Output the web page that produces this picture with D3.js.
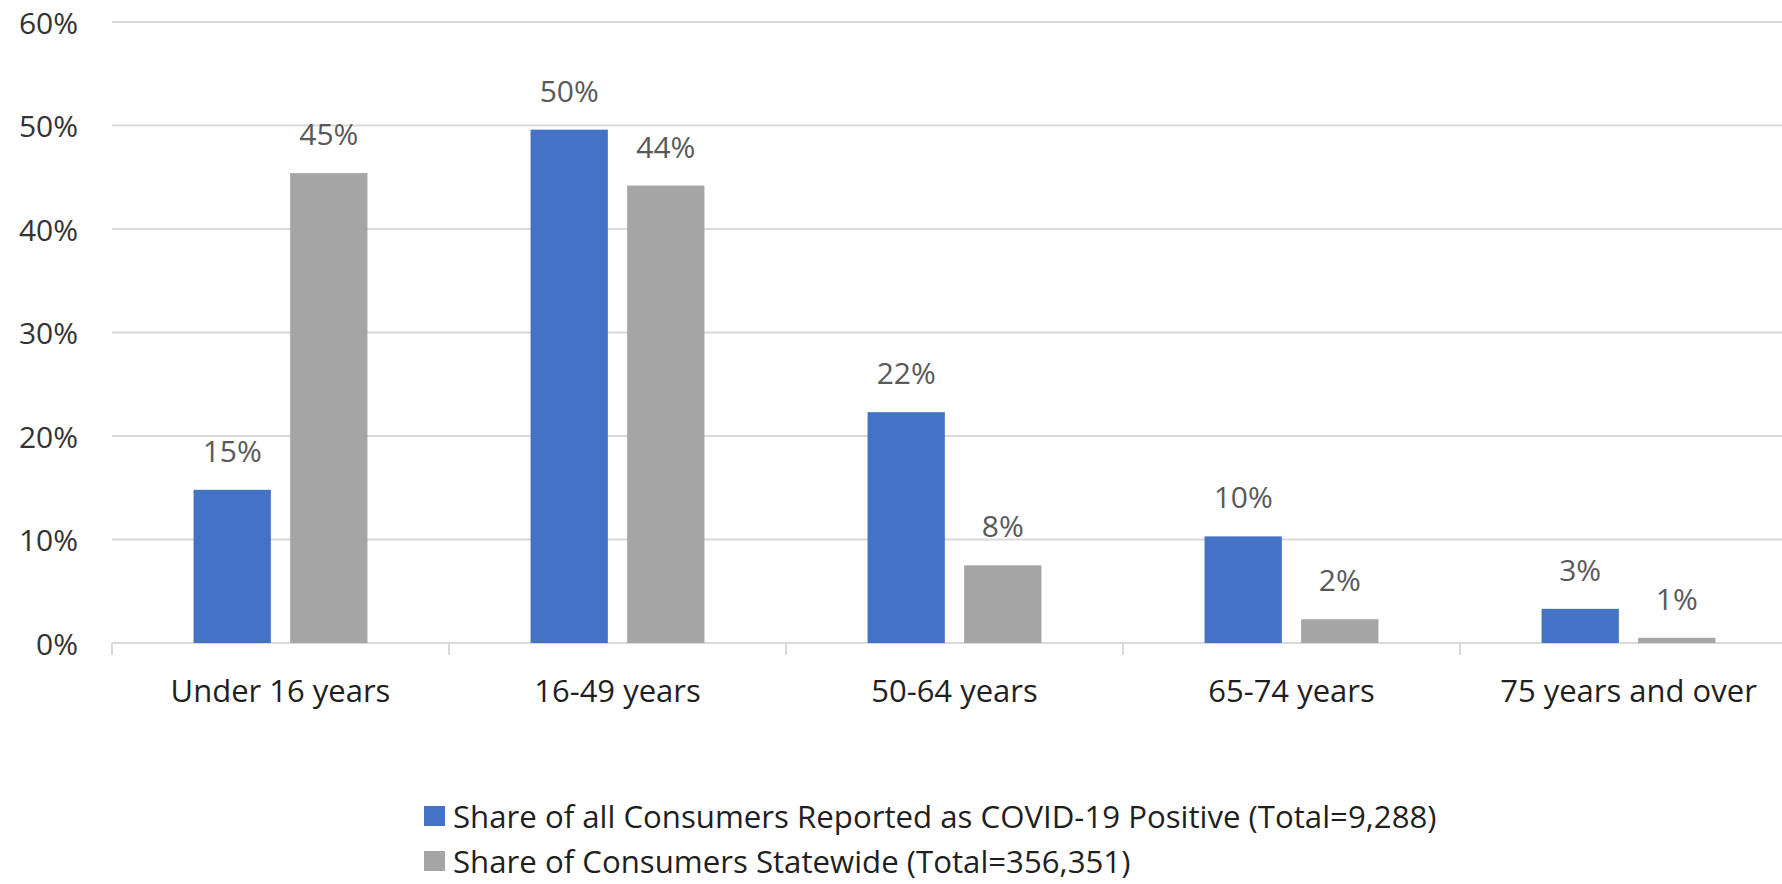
<!DOCTYPE html>
<html>
<head>
<meta charset="utf-8">
<script src="https://cdn.jsdelivr.net/npm/d3@7"></script>
<style>
  html, body { margin: 0; padding: 0; background: #ffffff; }
  svg { display: block; font-family: "Open Sans", "Noto Sans", sans-serif; }
</style>
</head>
<body>
<svg id="chart" width="1782" height="884"></svg>
<script>
const categories = ["Under 16 years", "16-49 years", "50-64 years", "65-74 years", "75 years and over"];
const seriesNames = ["Share of all Consumers Reported as COVID-19 Positive (Total=9,288)", "Share of Consumers Statewide (Total=356,351)"];
const positiveValues = [0.148, 0.496, 0.223, 0.103, 0.033];
const statewideValues = [0.454, 0.442, 0.075, 0.023, 0.005];
const positiveLabels = ["15%", "50%", "22%", "10%", "3%"];
const statewideLabels = ["45%", "44%", "8%", "2%", "1%"];
const yTicks = [0, 0.1, 0.2, 0.3, 0.4, 0.5, 0.6];
const seriesColors = ["#4472C4", "#A5A5A5"];

const W = 1782, H = 884;
const plotLeft = 112, plotRight = 1797, plotTop = 22, plotBottom = 643;

const svg = d3.select("#chart");

const y = d3.scaleLinear().domain([0, 0.6]).range([plotBottom, plotTop]);
const x0 = d3.scaleBand().domain(categories).range([plotLeft, plotRight])
  .paddingInner(0.484).paddingOuter(0.242);
const x1 = d3.scaleBand().domain([0, 1]).range([0, x0.bandwidth()]).paddingInner(0.2);

// gridlines
svg.append("g").selectAll("line").data(yTicks).join("line")
  .attr("x1", plotLeft).attr("x2", W)
  .attr("y1", d => y(d)).attr("y2", d => y(d))
  .attr("stroke", "#d9d9d9").attr("stroke-width", 2);

// y tick labels
svg.append("g").selectAll("text").data(yTicks).join("text")
  .attr("x", 78).attr("y", d => y(d))
  .attr("text-anchor", "end").attr("dominant-baseline", "central")
  .attr("font-size", 30).attr("fill", "#333333")
  .text(d => d3.format(".0%")(d));

// x-axis tick marks at band boundaries
const step = x0.step();
const boundaries = d3.range(categories.length + 1).map(i => x0(categories[0]) - x0.paddingOuter() * step + i * step);
svg.append("g").selectAll("line").data(boundaries).join("line")
  .attr("x1", d => d).attr("x2", d => d)
  .attr("y1", plotBottom).attr("y2", plotBottom + 12)
  .attr("stroke", "#d9d9d9").attr("stroke-width", 2);

// category labels
svg.append("g").selectAll("text").data(categories).join("text")
  .attr("x", d => x0(d) + x0.bandwidth() / 2).attr("y", 702)
  .attr("text-anchor", "middle")
  .attr("font-size", 31).attr("fill", "#1f1f1f")
  .text(d => d);

const rows = categories.map((c, i) => [
  { cat: c, s: 0, v: positiveValues[i], label: positiveLabels[i] },
  { cat: c, s: 1, v: statewideValues[i], label: statewideLabels[i] }
]).flat();

svg.append("g").selectAll("rect").data(rows).join("rect")
  .attr("x", d => x0(d.cat) + x1(d.s))
  .attr("width", x1.bandwidth())
  .attr("y", d => y(d.v))
  .attr("height", d => y(0) - y(d.v))
  .attr("fill", d => seriesColors[d.s]);

svg.append("g").selectAll("text").data(rows).join("text")
  .attr("x", d => x0(d.cat) + x1(d.s) + x1.bandwidth() / 2)
  .attr("y", d => y(d.v) - 28)
  .attr("text-anchor", "middle")
  .attr("font-size", 30).attr("fill", "#595959")
  .text(d => d.label);

// legend
const legend = svg.append("g");
seriesNames.forEach((name, i) => {
  const yy = 806 + i * 45;
  legend.append("rect").attr("x", 424).attr("y", yy).attr("width", 21).attr("height", 20)
    .attr("fill", seriesColors[i]);
  legend.append("text").attr("x", 453).attr("y", yy + 10)
    .attr("dominant-baseline", "central")
    .attr("font-size", 31.2).attr("fill", "#1f1f1f")
    .text(name);
});
</script>
</body>
</html>
